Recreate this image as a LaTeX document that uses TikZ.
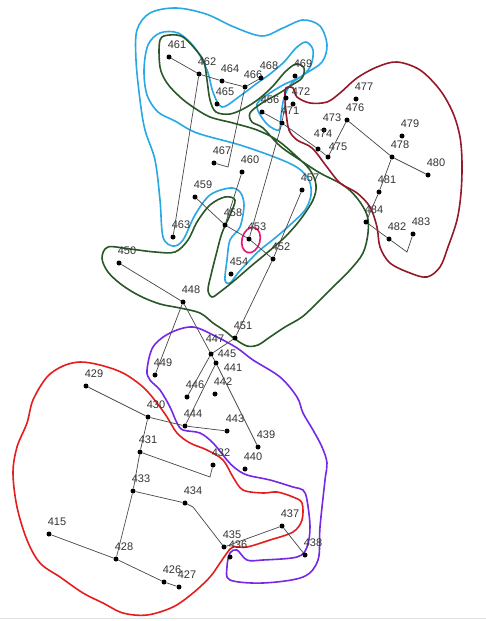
\documentclass[tikz,border=0pt]{standalone}
\usepackage{fontspec}
\newfontfamily\lblfont{Liberation Sans}
\usepackage{tikz}
\usetikzlibrary{calc}

\definecolor{cyanline}{RGB}{40,168,228}
\definecolor{greenline}{RGB}{40,88,40}
\definecolor{wineline}{RGB}{150,25,42}
\definecolor{pinkline}{RGB}{232,20,120}
\definecolor{violetline}{RGB}{118,40,230}
\definecolor{redline}{RGB}{228,30,30}
\definecolor{edgegray}{RGB}{70,70,70}

\tikzset{
  dot/.style={circle, fill=black, inner sep=0pt, minimum size=5pt},
  lbl/.style={font=\lblfont\fontsize{11}{11}\selectfont, text=black!80, inner sep=0pt},
  edge/.style={draw=edgegray, line width=0.7pt},
  contour/.style={line width=1.6pt, line join=round}
}

\begin{document}
\begin{tikzpicture}[x=1pt, y=-1pt]
\useasboundingbox (0,0) rectangle (486,621);
\fill[white] (0,0) rectangle (486,621);
\draw[black!12, line width=1pt] (0,618) -- (486,618);

% Contours
\draw[contour, cyanline] plot[smooth cycle, tension=0.55] coordinates {
  (137,30) (150,13) (176,8) (206,14) (234,27) (262,36) (283,28) (303,20)
  (320,26) (327,45) (322,62) (305,74) (291,84) (284,98) (281,116) (279,130)
  (268,125) (259,113) (257,104) (264,97) (283,85) (302,76) (311,65) (313,50)
  (306,42) (296,48) (284,62) (270,74) (256,84) (240,96) (222,107) (213,92)
  (207,70) (195,48) (178,33) (160,33) (148,45) (144,70) (147,95) (158,112)
  (175,121) (197,133) (240,145) (277,158) (298,168) (309,180) (311,195)
  (305,210) (290,225) (275,238) (260,250) (250,260) (238,273) (230,283)
  (225,280) (227,260) (230,240) (240,227) (244,205) (240,192) (230,188)
  (210,195) (195,215) (183,240) (173,246) (163,237) (160,200) (155,160)
  (145,130) (140,100) (136,60)};
\draw[contour, greenline] plot[smooth cycle, tension=0.55] coordinates {
  (160,40) (160,67) (167,83) (180,97) (193,107) (210,117) (233,123) (257,130)
  (277,140) (295,155) (310,170) (316,185) (313,200) (300,220) (285,237)
  (268,252) (250,267) (235,280) (220,292) (212,297) (208,290) (211,275)
  (216,255) (222,233) (230,215) (235,200) (225,197) (210,205) (197,222)
  (188,240) (175,252) (155,252) (130,249) (108,247) (102,258) (108,272)
  (122,285) (140,296) (160,304) (180,308) (200,313) (213,323) (225,331)
  (235,339) (247,346) (258,345) (270,337) (285,327) (302,317) (318,302)
  (333,287) (350,270) (363,253) (368,233) (367,215) (357,198) (343,185)
  (320,173) (300,160) (280,146) (263,128) (252,122) (250,113) (262,103)
  (278,94) (292,85) (302,78) (304,68) (296,64) (285,72) (273,86) (260,98)
  (245,108) (230,114) (216,112) (210,100) (207,80) (204,62) (196,50)
  (183,37) (170,35)};
\draw[contour, wineline] plot[smooth cycle, tension=0.55] coordinates {
  (286,88) (293,88) (297,97) (310,103) (327,102) (340,93) (357,78) (377,67)
  (397,62) (420,70) (440,90) (453,113) (460,137) (462,163) (461,193) (457,220)
  (448,247) (440,267) (427,277) (410,273) (390,263) (380,247) (377,227) (370,207)
  (357,193) (340,183) (327,167) (312,148) (297,140) (289,130) (286,112) (285,97)};
\draw[contour, violetline] plot[smooth cycle, tension=0.55] coordinates {
  (147,370) (153,347) (170,333) (193,327) (217,337) (237,348) (253,360) (280,377)
  (297,397) (303,413) (313,430) (322,447) (327,463) (325,480) (320,527) (318,560)
  (303,577) (263,583) (230,580) (227,567) (230,553) (237,550) (247,560) (263,560)
  (297,557) (307,547) (310,527) (307,500) (303,490) (293,487) (270,480) (247,475)
  (235,468) (227,460) (213,443) (200,433) (183,430) (177,423) (170,407) (160,390)
  (150,380)};
\draw[contour, redline] plot[smooth cycle, tension=0.55] coordinates {
  (80,362) (100,365) (123,373) (143,387) (157,403) (167,417) (177,433) (190,443)
  (207,450) (223,460) (233,477) (243,490) (263,493) (277,492) (293,497) (302,503)
  (302,520) (293,532) (270,540) (247,547) (233,547) (227,553) (220,563) (210,577)
  (193,593) (173,607) (147,615) (123,613) (103,603) (83,593) (60,577) (40,563)
  (27,540) (17,507) (13,473) (17,447) (27,423) (33,400) (47,377) (63,366)};
\draw[line width=1.6pt, pinkline, rotate around={-15:(251,240)}] (251,240) ellipse (9 and 13);

% Points
\foreach \n/\x/\y in {461/169/57, 462/199/74, 464/222/81, 466/245/87, 468/261/78,
    465/217/104, 469/295/76, 472/293/104, 471/282/123, 456/262/112, 467/214/163,
    460/242/172, 459/195/197, 458/225/225, 453/249/239, 454/231/274, 452/273/259,
    457/302/190, 463/173/237, 477/356/99, 476/347/120, 473/324/130,
    479/402/136, 478/392/157, 480/428/175, 481/379/192, 484/366/222,
    482/389/239, 483/413/234, 450/119/263, 448/183/302, 451/235/338,
    449/155/375, 446/187/397, 442/215/394, 444/185/426, 443/227/431,
    439/258/447, 440/245/469, 432/213/465, 429/86/386, 430/148/417, 431/140/452,
    433/133/491, 434/185/503, 415/49/534, 428/116/559, 426/164/582, 427/179/587,
    435/224/547, 436/230/557, 437/282/526, 438/305/555} {
  \node[dot] (p\n) at (\x,\y) {};
  \node[lbl] (t\n) at ($(p\n)+(8,-12)$) {\n};
}
% crowded labels
\node[dot] (p474) at (318,149) {};
\node[lbl] (t474) at ($(p474)+(5,-15)$) {474};
\node[dot] (p475) at (328,157) {};
\node[lbl] (t475) at ($(p475)+(10,-10)$) {475};
\node[dot] (p447) at (211,354) {};
\node[lbl] (t447) at ($(p447)+(4,-15)$) {447};
\node[dot] (p445) at (216,363) {};
\node[lbl] (t445) at ($(p445)+(11,-9)$) {445};
\node[lbl] (t441) at ($(p445)+(17,5)$) {441};
\node[dot] (p470) at (286,98) {};
\coordinate (k467) at (228,167);
\coordinate (k483) at (407,252);
\coordinate (k432) at (210,477);
\coordinate (k435) at (193,507);

% Connectors
\foreach \a/\b in {461/462, 462/464, 464/466, 466/468, 462/463, 459/458, 458/453,
    453/452, 460/458, 457/452, 452/451, 470/471, 471/453, 456/471, 471/474,
    474/475, 476/475, 476/478, 478/480, 478/481, 481/484, 484/482, 450/448,
    448/449, 448/447, 447/445, 447/446, 445/444, 445/439, 451/447, 429/430,
    430/444, 444/443, 430/431, 431/433, 433/434, 433/428, 415/428, 428/426,
    426/427, 435/437, 437/438}
  \draw[edge] (p\a) -- (p\b);
\draw[edge] (p466) -- (k467) -- (p467);
\draw[edge] (p482) -- (k483) -- (p483);
\draw[edge] (p431) -- (k432) -- (p432);
\draw[edge] (p434) -- (k435) -- (p435);
\end{tikzpicture}
\end{document}
